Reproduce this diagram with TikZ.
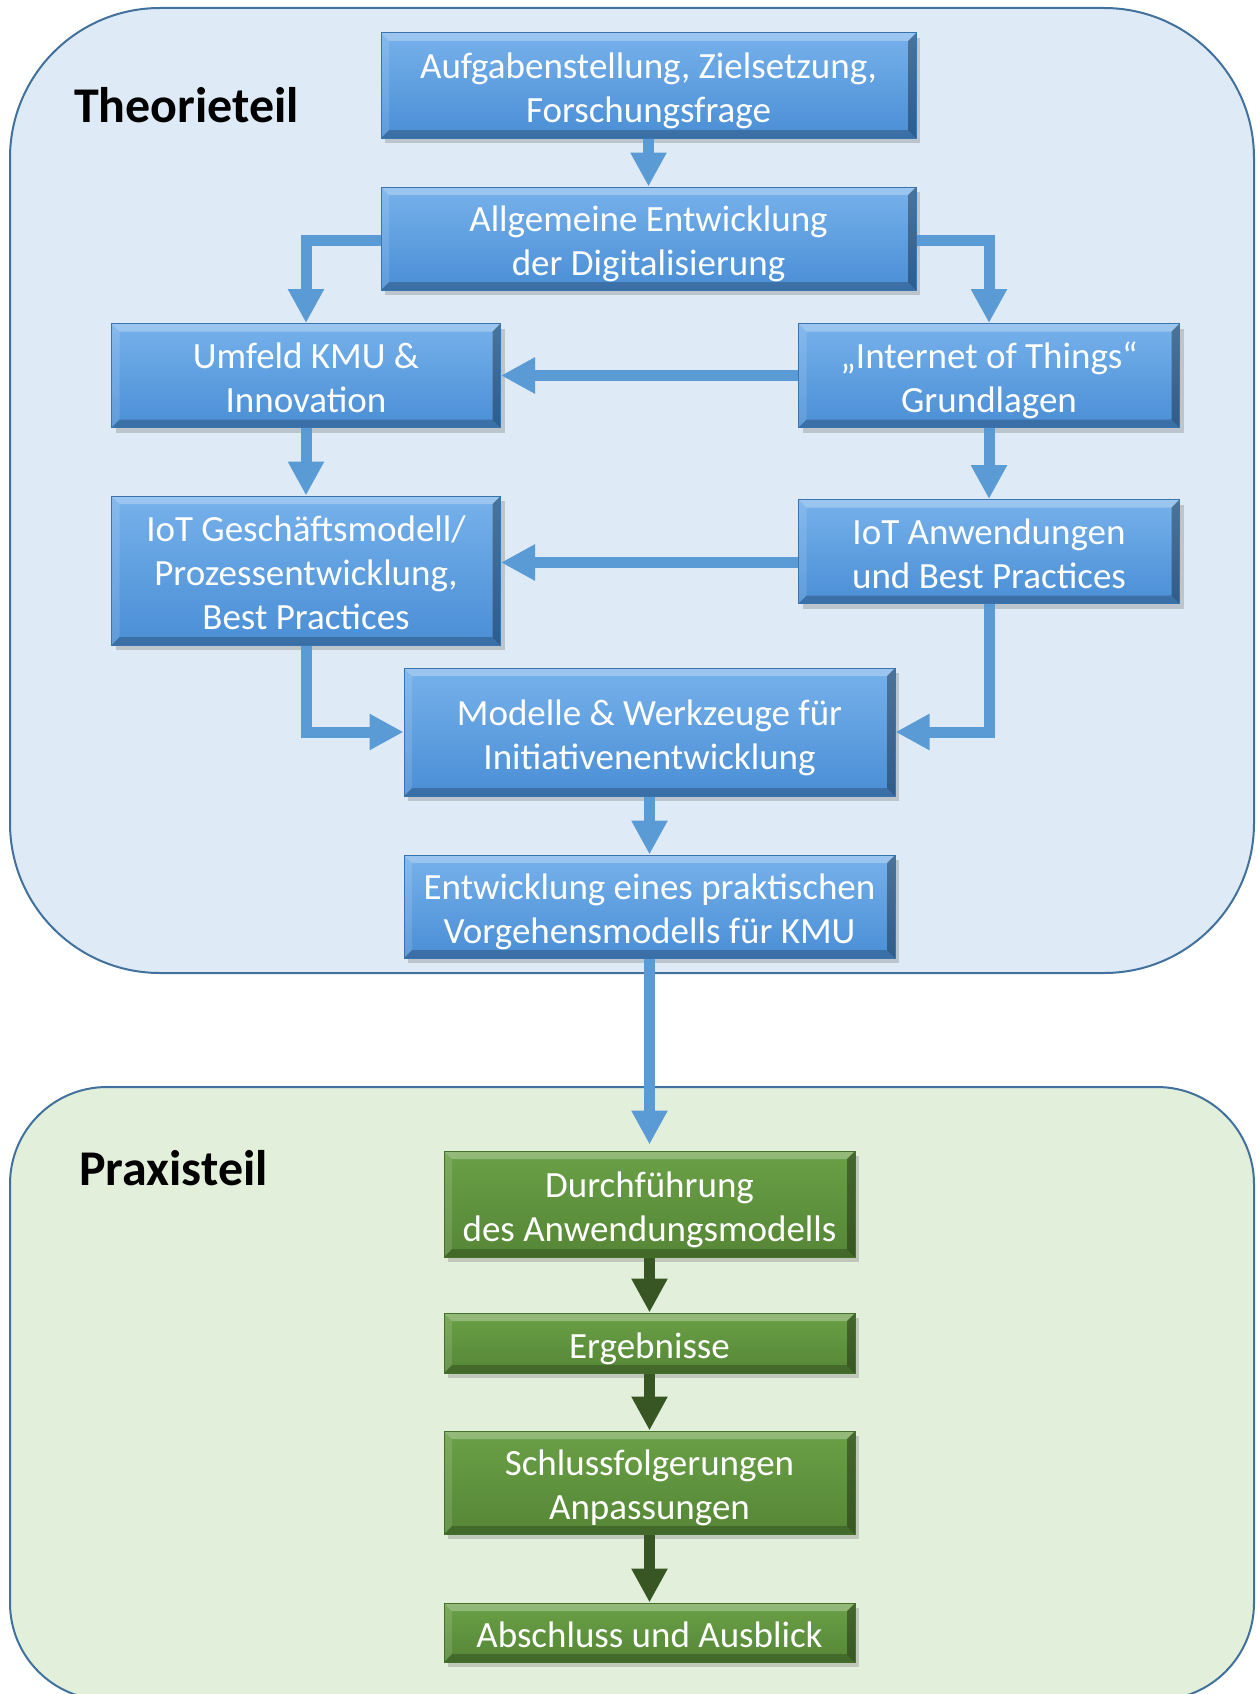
\documentclass[tikz,border=0pt]{standalone}
\usepackage{fontspec}
\setmainfont{Carlito}
\usetikzlibrary{arrows.meta,shadows}

\definecolor{theoFill}{HTML}{DEEAF6}
\definecolor{praxFill}{HTML}{E2EFDA}
\definecolor{frameLine}{HTML}{41719C}
\definecolor{blueTop}{HTML}{76B1EB}
\definecolor{blueBot}{HTML}{4A8ED5}
\definecolor{blueEdge}{HTML}{3A74AE}
\definecolor{blueArrow}{HTML}{5B9BD5}
\definecolor{greenTop}{HTML}{6AA046}
\definecolor{greenBot}{HTML}{558636}
\definecolor{greenEdge}{HTML}{44702A}
\definecolor{greenArrow}{HTML}{375623}

% fixed first-line height and last-line depth, so every text block is centred alike
\newcommand\topstrut{\rule{0pt}{40pt}}
\newcommand\botstrut{\rule[-10pt]{0pt}{10pt}}

\tikzset{
  bevel/.style={path picture={
    \coordinate (bnw) at (path picture bounding box.north west);
    \coordinate (bne) at (path picture bounding box.north east);
    \coordinate (bsw) at (path picture bounding box.south west);
    \coordinate (bse) at (path picture bounding box.south east);
    \fill[white,opacity=.28] (bnw) -- (bne) -- ([shift={(-8pt,-8pt)}]bne) -- ([shift={(8pt,-8pt)}]bnw) -- cycle;
    \fill[white,opacity=.12] (bnw) -- ([shift={(8pt,-8pt)}]bnw) -- ([shift={(8pt,8pt)}]bsw) -- (bsw) -- cycle;
    \fill[black,opacity=.22] (bsw) -- (bse) -- ([shift={(-8pt,8pt)}]bse) -- ([shift={(8pt,8pt)}]bsw) -- cycle;
    \fill[black,opacity=.35] (bne) -- (bse) -- ([shift={(-8pt,8pt)}]bse) -- ([shift={(-8pt,-8pt)}]bne) -- cycle;
  }},
  box/.style={rectangle, inner sep=0pt, align=center, text=white,
    font=\fontsize{37}{44}\selectfont, bevel,
    drop shadow={shadow xshift=4pt, shadow yshift=-5pt, opacity=.35}},
  bluebox/.style={box, top color=blueTop, bottom color=blueBot, draw=blueEdge, line width=1pt},
  greenbox/.style={box, top color=greenTop, bottom color=greenBot, draw=greenEdge, line width=1pt},
  flow/.style={line width=11pt, line join=miter, -{Triangle[width=34pt,length=34pt]}},
  blueflow/.style={flow, draw=blueArrow},
  greenflow/.style={flow, draw=greenArrow},
  heading/.style={anchor=base west, inner sep=0pt, font=\fontsize{50}{60}\selectfont\bfseries, text=black},
}

\begin{document}
\begin{tikzpicture}[x=1pt,y=-1pt]
  \useasboundingbox (0,0) rectangle (1257,1694);
  \clip (0,0) rectangle (1257,1694);

  % two part frames
  \draw[fill=theoFill, draw=frameLine, line width=2pt, rounded corners=150pt]
    (10,8) rectangle (1254,973);
  \draw[fill=praxFill, draw=frameLine, line width=2pt, rounded corners=97pt]
    (10,1087) rectangle (1254,1700);

  \node[heading] (theo) at (74,122) {Theorieteil};
  \node[heading] (prax) at (79,1185) {Praxisteil};

  % theory part
  \node[bluebox, minimum width=535pt, minimum height=105pt] (A) at (648.5,85.5)
    {\topstrut Aufgabenstellung, Zielsetzung,\\Forschungsfrage\botstrut};
  \node[bluebox, minimum width=535pt, minimum height=103pt] (B) at (648.5,238.5)
    {\topstrut Allgemeine Entwicklung\\der Digitalisierung\botstrut};
  \node[bluebox, minimum width=389pt, minimum height=104pt] (C) at (306,375.5)
    {\topstrut Umfeld KMU \&\\Innovation\botstrut};
  \node[bluebox, minimum width=381pt, minimum height=104pt] (D) at (989,375.5)
    {\topstrut „Internet of Things“\\Grundlagen\botstrut};
  \node[bluebox, minimum width=389pt, minimum height=149pt] (E) at (306,570.5)
    {\topstrut IoT Geschäftsmodell/\\Prozessentwicklung,\\Best Practices\botstrut};
  \node[bluebox, minimum width=381pt, minimum height=104pt] (F) at (989,551.5)
    {\topstrut IoT Anwendungen\\und Best Practices\botstrut};
  \node[bluebox, minimum width=491pt, minimum height=128pt] (G) at (649.5,732)
    {\topstrut Modelle \& Werkzeuge für\\Initiativenentwicklung\botstrut};
  \node[bluebox, minimum width=491pt, minimum height=103pt] (H) at (649.5,906.5)
    {\topstrut Entwicklung eines praktischen\\Vorgehensmodells für KMU\botstrut};

  % practice part
  \node[greenbox, minimum width=411pt, minimum height=106pt] (I) at (649.5,1204)
    {\topstrut Durchführung\\des Anwendungsmodells\botstrut};
  \node[greenbox, minimum width=411pt, minimum height=60pt] (J) at (649.5,1343)
    {\topstrut Ergebnisse\botstrut};
  \node[greenbox, minimum width=411pt, minimum height=103pt] (K) at (649.5,1482.5)
    {\topstrut Schlussfolgerungen\\Anpassungen\botstrut};
  \node[greenbox, minimum width=411pt, minimum height=59pt] (L) at (649.5,1632.5)
    {\topstrut Abschluss und Ausblick\botstrut};

  % connectors
  \draw[blueflow] (A.south) -- (B.north);
  \draw[blueflow] ([yshift=-2pt]B.west) -| (C.north);
  \draw[blueflow] ([yshift=-2pt]B.east) -| (D.north);
  \draw[blueflow] (D.west) -- (C.east);
  \draw[blueflow] (C.south) -- (E.north);
  \draw[blueflow] (D.south) -- (F.north);
  \draw[blueflow] ([yshift=-11pt]F.west) -- ([yshift=-11pt]F.west -| E.east);
  \draw[blueflow] (E.south) |- (G.west);
  \draw[blueflow] (F.south) |- (G.east);
  \draw[blueflow] (G.south) -- (H.north);
  \draw[blueflow] (H.south) -- ([yshift=6pt]I.north);

  \draw[greenflow] (I.south) -- (J.north);
  \draw[greenflow] (J.south) -- (K.north);
  \draw[greenflow] (K.south) -- (L.north);
\end{tikzpicture}
\end{document}
